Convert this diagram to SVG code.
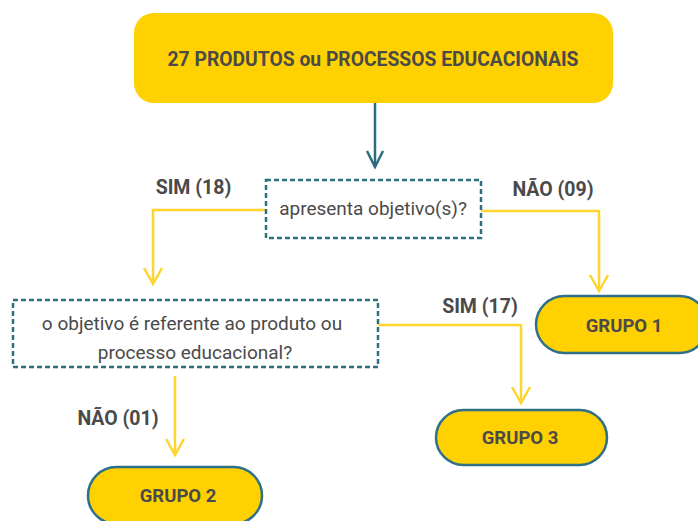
<svg xmlns="http://www.w3.org/2000/svg" width="698" height="521" viewBox="0 0 698 521">
<style>
.t{font-family:Roboto,"Liberation Sans",sans-serif;fill:#4a4a4a}
.b{font-weight:bold}
.pill{fill:#FFD100;stroke:#2e7088;stroke-width:2.5}
.dec{fill:#fff;stroke:#2e6f80;stroke-width:2.5;stroke-dasharray:5 3}
.y{fill:none;stroke:#FFD42F;stroke-width:2.5}
.g{fill:none;stroke:#2b6c7f;stroke-width:2.5}
</style>
<rect width="698" height="521" fill="#fff"/>
<g id="connectors">
<path class="g" d="M375 103 V167"/>
<path class="g" d="M367 151 L375 167 L383 151"/>
<path class="y" d="M266 210 H153 V283"/>
<path class="y" d="M144 268 L153 284 L162 268"/>
<path class="y" d="M481 211 H599 V290"/>
<path class="y" d="M590 275 L599 291 L608 275"/>
<path class="y" d="M378 325 H521 V402"/>
<path class="y" d="M512 387 L521 403 L530 387"/>
<path class="y" d="M175 376 V455"/>
<path class="y" d="M166 439 L175 455 L184 439"/>
</g>
<g id="start">
<rect x="134" y="13" width="479" height="90" rx="20" fill="#FFD100"/>
<text class="t b" x="373" y="66" font-size="19.3" text-anchor="middle">27 PRODUTOS ou PROCESSOS EDUCACIONAIS</text>
</g>
<g id="q1">
<rect class="dec" x="266" y="180" width="215" height="58"/>
<text class="t" x="373" y="215" font-size="19" text-anchor="middle">apresenta objetivo(s)?</text>
</g>
<g id="q2">
<rect class="dec" x="13" y="300" width="365" height="67"/>
<text class="t" x="192" y="330" font-size="19" text-anchor="middle">o objetivo é referente ao produto ou</text>
<text class="t" x="195" y="359" font-size="19" text-anchor="middle">processo educacional?</text>
</g>
<g id="labels">
<text class="t b" x="193.5" y="194" font-size="19.5" text-anchor="middle">SIM (18)</text>
<text class="t b" x="553" y="196" font-size="19.5" text-anchor="middle">NÃO (09)</text>
<text class="t b" x="480" y="313" font-size="19.5" text-anchor="middle">SIM (17)</text>
<text class="t b" x="118" y="425" font-size="19.5" text-anchor="middle">NÃO (01)</text>
</g>
<g id="g1">
<rect class="pill" x="536" y="296" width="172" height="57" rx="28.5"/>
<text class="t b" x="624" y="332" font-size="18.5" text-anchor="middle">GRUPO 1</text>
</g>
<g id="g3">
<rect class="pill" x="436" y="410" width="171" height="55" rx="27.5"/>
<text class="t b" x="520" y="444" font-size="18.5" text-anchor="middle">GRUPO 3</text>
</g>
<g id="g2">
<rect class="pill" x="88" y="467" width="174" height="57" rx="28.5"/>
<text class="t b" x="178" y="502" font-size="18.5" text-anchor="middle">GRUPO 2</text>
</g>
</svg>
